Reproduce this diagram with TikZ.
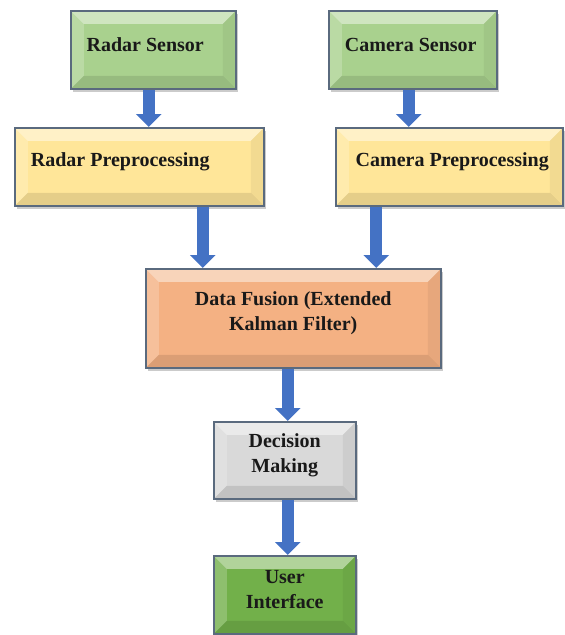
\documentclass[tikz,border=0pt]{standalone}
\usepackage{fontspec}
\setmainfont{Liberation Serif}
\usetikzlibrary{arrows.meta,shadows}

\definecolor{sensorgreen}{HTML}{A9D18E}
\definecolor{prepyellow}{HTML}{FFE699}
\definecolor{fusionorange}{HTML}{F4B183}
\definecolor{decisiongrey}{HTML}{D9D9D9}
\definecolor{uigreen}{HTML}{72B04A}
\definecolor{boxborder}{HTML}{5A6A7E}
\definecolor{flowblue}{HTML}{4472C4}

\def\bev{13pt}
\def\ppbb{path picture bounding box}

\tikzset{
	bevel/.style={
		path picture={
			\fill[white, opacity=0.45] (\ppbb.north west) -- (\ppbb.north east) -- ([shift={(-\bev,-\bev)}]\ppbb.north east) -- ([shift={(\bev,-\bev)}]\ppbb.north west) -- cycle;
			\fill[white, opacity=0.2] (\ppbb.north west) -- ([shift={(\bev,-\bev)}]\ppbb.north west) -- ([shift={(\bev,\bev)}]\ppbb.south west) -- (\ppbb.south west) -- cycle;
			\fill[black, opacity=0.05] (\ppbb.north east) -- ([shift={(-\bev,-\bev)}]\ppbb.north east) -- ([shift={(-\bev,\bev)}]\ppbb.south east) -- (\ppbb.south east) -- cycle;
			\fill[black, opacity=0.1] (\ppbb.south west) -- ([shift={(\bev,\bev)}]\ppbb.south west) -- ([shift={(-\bev,\bev)}]\ppbb.south east) -- (\ppbb.south east) -- cycle;
		}
	},
	block/.style={draw=boxborder, line width=1.5pt, fill=#1, anchor=north west, inner sep=0pt,
		drop shadow={shadow xshift=2pt, shadow yshift=-3pt, fill=black!45, opacity=0.45}, bevel},
	boxtext/.style={font=\fontsize{20}{25}\selectfont\bfseries, align=center, text=black!90, yshift=5pt},
	flow/.style={line width=12pt, draw=flowblue, -{Triangle[width=25pt, length=13pt]}}
}

\begin{document}
\begin{tikzpicture}[x=1pt, y=-1pt]
			%%%%% START %%%%%
			\useasboundingbox (0, 0) rectangle (565, 635);
			
			% sensors
			\node[block=sensorgreen, minimum width=165, minimum height=78,
				label={[boxtext, xshift=-8pt]center:Radar Sensor}] (radar) at (70, 10) {};
			\node[block=sensorgreen, minimum width=168, minimum height=78,
				label={[boxtext, xshift=-2pt]center:Camera Sensor}] (camera) at (328, 10) {};
			
			% preprocessing
			\node[block=prepyellow, minimum width=249, minimum height=78,
				label={[boxtext, xshift=-19pt]center:Radar Preprocessing}] (radarpre) at (14, 127) {};
			\node[block=prepyellow, minimum width=227, minimum height=78,
				label={[boxtext, xshift=3pt]center:Camera Preprocessing}] (camerapre) at (335, 127) {};
			
			% fusion
			\node[block=fusionorange, minimum width=295, minimum height=99,
				label={[boxtext]center:Data Fusion (Extended\\Kalman Filter)}] (fusion) at (145, 268) {};
			
			% decision + ui
			\node[block=decisiongrey, minimum width=142, minimum height=77,
				label={[boxtext]center:Decision\\Making}] (decision) at (213, 421) {};
			\node[block=uigreen, minimum width=142, minimum height=78,
				label={[boxtext]center:User\\Interface}] (ui) at (213, 555) {};
			
			% arrows
			\draw[flow] ([xshift=-4.5]radar.south) -- ([xshift=-4.5]radar.south |- radarpre.north);
			\draw[flow] ([xshift=-4]camera.south) -- ([xshift=-4]camera.south |- camerapre.north);
			\draw[flow] ([xshift=63.5]radarpre.south) -- ([xshift=63.5]radarpre.south |- fusion.north);
			\draw[flow] ([xshift=-73]camerapre.south) -- ([xshift=-73]camerapre.south |- fusion.north);
			\draw[flow] ([xshift=-5.5]fusion.south) -- ([xshift=-5.5]fusion.south |- decision.north);
			\draw[flow] ([xshift=3]decision.south) -- ([xshift=3]decision.south |- ui.north);
			
			%%%%% END %%%%%
\end{tikzpicture}
\end{document}
